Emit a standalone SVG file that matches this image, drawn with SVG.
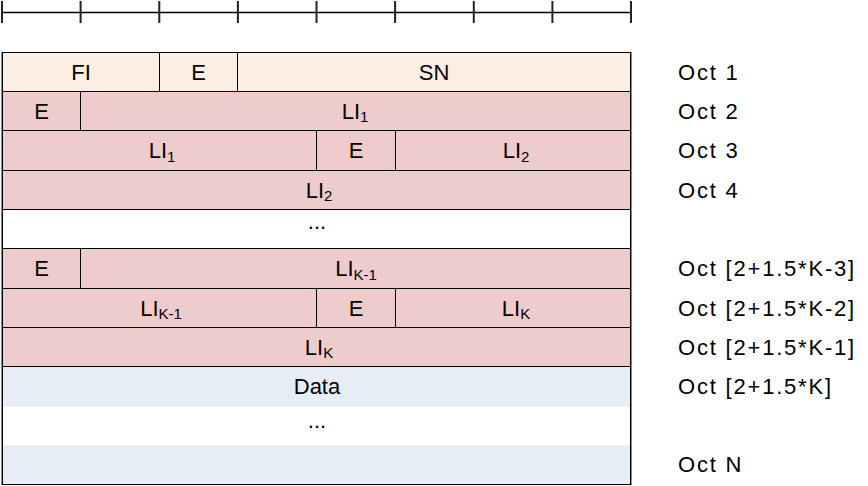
<svg xmlns="http://www.w3.org/2000/svg" width="868" height="486" viewBox="0 0 868 486">
<style>
.c{stroke:#000;stroke-width:1}
.p{fill:#FDEEE3}
.r{fill:#EECCCC}
.b{fill:#E6EDF7}
.w{fill:#FFFFFF}
text{font-family:"Liberation Sans",Arial,sans-serif;fill:#000}
.t{font-size:22px;text-anchor:middle}
.o{font-size:22px;letter-spacing:1.8px}
.s{font-size:15px}
.tick{stroke:#222;stroke-width:2}
</style>
<rect width="868" height="486" fill="#fff"/>
<g id="ruler">
<line x1="2" y1="12.5" x2="631" y2="12.5" stroke="#000" stroke-width="1.5"/>
<line class="tick" x1="2" y1="1" x2="2" y2="23"/>
<line class="tick" x1="80.6" y1="1" x2="80.6" y2="23"/>
<line class="tick" x1="159.3" y1="1" x2="159.3" y2="23"/>
<line class="tick" x1="237.9" y1="1" x2="237.9" y2="23"/>
<line class="tick" x1="316.5" y1="1" x2="316.5" y2="23"/>
<line class="tick" x1="395.1" y1="1" x2="395.1" y2="23"/>
<line class="tick" x1="473.8" y1="1" x2="473.8" y2="23"/>
<line class="tick" x1="552.4" y1="1" x2="552.4" y2="23"/>
<line class="tick" x1="631" y1="1" x2="631" y2="23"/>
</g>
<g id="row1">
<g id="fi"><rect class="c p" x="2.5" y="52.5" width="157" height="39"/><text class="t" x="81" y="79.5">FI</text></g>
<g id="e1"><rect class="c p" x="159.5" y="52.5" width="78" height="39"/><text class="t" x="198.5" y="79.5">E</text></g>
<g id="sn"><rect class="c p" x="237.5" y="52.5" width="393" height="39"/><text class="t" x="434" y="79.5">SN</text></g>
</g>
<g id="row2">
<g id="e2"><rect class="c r" x="2.5" y="91.5" width="78" height="39"/><text class="t" x="41.5" y="118.5">E</text></g>
<g id="li1a"><rect class="c r" x="80.5" y="91.5" width="550" height="39"/><text class="t" x="355" y="118.5">LI<tspan class="s" dy="3.5">1</tspan></text></g>
</g>
<g id="row3">
<g id="li1b"><rect class="c r" x="2.5" y="130.5" width="314" height="40"/><text class="t" x="162" y="158">LI<tspan class="s" dy="3.5">1</tspan></text></g>
<g id="e3"><rect class="c r" x="316.5" y="130.5" width="79" height="40"/><text class="t" x="356" y="158">E</text></g>
<g id="li2a"><rect class="c r" x="395.5" y="130.5" width="235" height="40"/><text class="t" x="516" y="158">LI<tspan class="s" dy="3.5">2</tspan></text></g>
</g>
<g id="row4">
<g id="li2b"><rect class="c r" x="2.5" y="170.5" width="628" height="39"/><text class="t" x="319" y="197.5">LI<tspan class="s" dy="3.5">2</tspan></text></g>
</g>
<g id="row5">
<g id="dots1"><rect class="c w" x="2.5" y="209.5" width="628" height="39"/><text class="t" x="317" y="229">...</text></g>
</g>
<g id="row6">
<g id="e6"><rect class="c r" x="2.5" y="248.5" width="78" height="40"/><text class="t" x="41.5" y="276">E</text></g>
<g id="lik1a"><rect class="c r" x="80.5" y="248.5" width="550" height="40"/><text class="t" x="356" y="276">LI<tspan class="s" dy="3.5">K-1</tspan></text></g>
</g>
<g id="row7">
<g id="lik1b"><rect class="c r" x="2.5" y="288.5" width="314" height="39"/><text class="t" x="161" y="315.5">LI<tspan class="s" dy="3.5">K-1</tspan></text></g>
<g id="e7"><rect class="c r" x="316.5" y="288.5" width="79" height="39"/><text class="t" x="356" y="315.5">E</text></g>
<g id="lika"><rect class="c r" x="395.5" y="288.5" width="235" height="39"/><text class="t" x="516" y="315.5">LI<tspan class="s" dy="3.5">K</tspan></text></g>
</g>
<g id="row8">
<g id="likb"><rect class="c r" x="2.5" y="327.5" width="628" height="39"/><text class="t" x="319" y="354.5">LI<tspan class="s" dy="3.5">K</tspan></text></g>
</g>
<g id="data">
<rect class="b" x="2.5" y="366.5" width="628" height="40"/>
<text class="t" x="317" y="393.5">Data</text>
<rect class="w" x="2.5" y="406.5" width="628" height="39"/>
<line x1="2.5" y1="406.5" x2="630.5" y2="406.5" stroke="#EEF2F9" stroke-width="1"/>
<line x1="2.5" y1="445.5" x2="630.5" y2="445.5" stroke="#EEF2F9" stroke-width="1"/>
<text class="t" x="317" y="428">...</text>
<rect class="b" x="2.5" y="446" width="628" height="38.5"/>
<rect x="2.5" y="366.5" width="628" height="118" fill="none" stroke="#000" stroke-width="1"/>
</g>
<g id="frame">
<line x1="1.5" y1="52" x2="1.5" y2="485" stroke="#888" stroke-width="1"/>
<line x1="631.5" y1="52" x2="631.5" y2="485" stroke="#888" stroke-width="1"/>
</g>
<g id="labels">
<text class="o" x="678" y="79.5">Oct 1</text>
<text class="o" x="678" y="118.5">Oct 2</text>
<text class="o" x="678" y="158">Oct 3</text>
<text class="o" x="678" y="197.5">Oct 4</text>
<text class="o" x="678" y="276">Oct [2+1.5*K-3]</text>
<text class="o" x="678" y="315.5">Oct [2+1.5*K-2]</text>
<text class="o" x="678" y="354.5">Oct [2+1.5*K-1]</text>
<text class="o" x="678" y="393.5">Oct [2+1.5*K]</text>
<text class="o" x="678" y="472">Oct N</text>
</g>
</svg>
